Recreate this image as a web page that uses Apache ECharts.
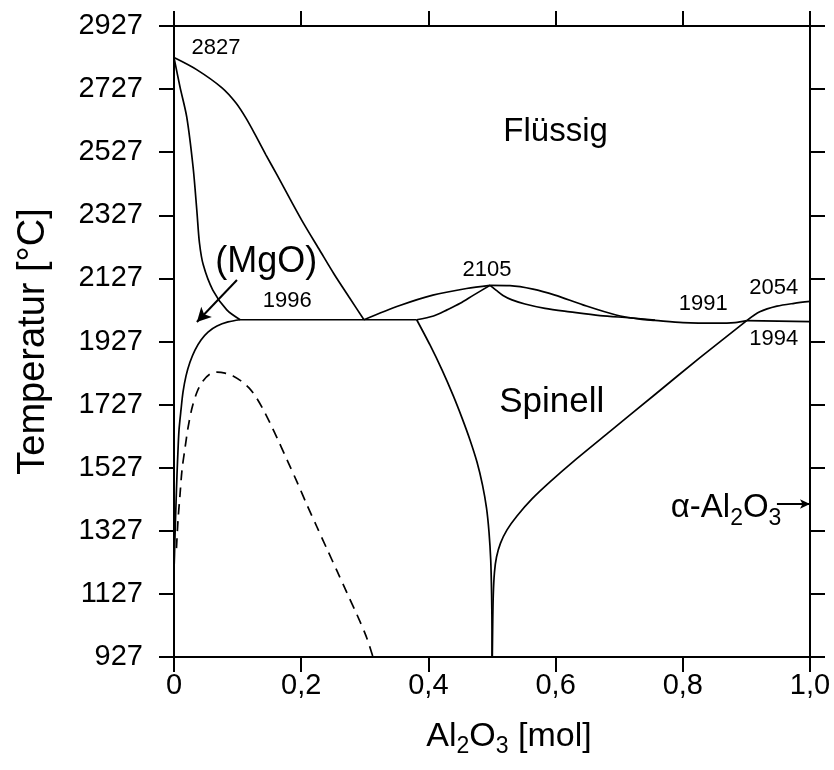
<!DOCTYPE html>
<html>
<head>
<meta charset="utf-8">
<script src="https://cdn.jsdelivr.net/npm/echarts@6/dist/echarts.min.js"></script>
<style>html,body{margin:0;padding:0;background:#fff}#c{width:834px;height:770px}</style>
</head>
<body>
<div id="c"></div>
<script>
// ---- data (x = Al2O3 mole fraction, y = temperature in °C) ----
const xTickLabels = ['0', '0,2', '0,4', '0,6', '0,8', '1,0'];
const liquidusMgO = [[0,2827],[0.0362,2788],[0.0755,2731],[0.0975,2683],[0.1132,2635],[0.1289,2578],[0.1447,2518],[0.162,2455],[0.1824,2379],[0.2044,2299],[0.228,2220],[0.2516,2141],[0.2752,2068],[0.2987,1996]];
const solidusMgO = [[0,2827],[0.0094,2734],[0.020,2639],[0.030,2480],[0.036,2340],[0.040,2240],[0.046,2170],[0.061,2090],[0.083,2027],[0.104,1996]];
const solvusMgO = [[0.1038,1996],[0.0849,1989],[0.0676,1976],[0.0535,1957],[0.0425,1932],[0.033,1900],[0.0252,1862],[0.0189,1818],[0.0142,1767],[0.011,1710],[0.0079,1647],[0.0063,1583],[0.0047,1504],[0.0031,1409],[0.0016,1314],[0.0008,1251],[0,1203]];
const spinodal = [[0.0039,1272],[0.0063,1361],[0.0094,1440],[0.0126,1520],[0.0173,1589],[0.022,1653],[0.0283,1716],[0.0362,1767],[0.0456,1802],[0.0566,1824],[0.0676,1830],[0.0802,1827],[0.0928,1818],[0.1053,1802],[0.1179,1780],[0.1289,1751],[0.1399,1713],[0.1509,1669],[0.1635,1615],[0.1777,1552],[0.1934,1482],[0.2091,1409],[0.2248,1339],[0.2406,1269],[0.2563,1200],[0.272,1130],[0.2877,1061],[0.3019,994],[0.3129,927]];
const eutecticLeft = [[0.1038,1996],[0.3816,1996]];
const liquidusSpinelL = [[0.2987,1996],[0.355,2041],[0.407,2074],[0.46,2095],[0.497,2105]];
const solidusSpinelL = [[0.3816,1996],[0.408,2008],[0.43,2028],[0.45,2048],[0.471,2074],[0.497,2105]];
const liquidusSpinelR = [[0.497,2105],[0.5283,2104],[0.5645,2093],[0.599,2074],[0.6431,2043],[0.695,2011],[0.7327,1998],[0.7563,1994],[0.8003,1987],[0.8538,1985],[0.8821,1987],[0.9005,1993]];
const solidusSpinelR = [[0.497,2105],[0.5063,2090],[0.5173,2073],[0.5314,2059],[0.5519,2046],[0.5833,2032],[0.6226,2021],[0.6698,2009],[0.717,2002],[0.7563,1995]];
const liquidusAl2O3 = [[0.9005,1993],[0.921,2021],[0.948,2039],[0.975,2048],[1.0,2054]];
const eutecticRight = [[0.9005,1993],[1.0,1990]];
const solvusSpinelR = [[0.9005,1993],[0.827,1876],[0.7563,1759],[0.6855,1642],[0.6305,1551],[0.5912,1482],[0.5629,1428],[0.5393,1374],[0.5236,1330],[0.5134,1288],[0.5071,1244],[0.5039,1196],[0.502,1124],[0.5011,1030],[0.5005,927]];
const solvusSpinelL = [[0.3816,1996],[0.4025,1916],[0.4214,1837],[0.4387,1757],[0.4528,1685],[0.4654,1615],[0.4764,1545],[0.4851,1472],[0.4914,1399],[0.4953,1323],[0.498,1234],[0.4994,1124],[0.5,1013],[0.5,927]];
// annotation texts and their anchor (data coordinates)
const annotTexts = ['2827', '1996', '2105', '1991', '2054', '1994'];
const annotPos = [[0.066,2857],[0.178,2055],[0.492,2154],[0.832,2046],[0.943,2098],[0.943,1935]];
const bigTexts = ['Flüssig', 'Spinell', '(MgO)'];
const bigPos = [[0.60,2590],[0.594,1735],[0.145,2179]];
const bigSizes = [33, 35, 36];
const alphaPos = [0.868, 1398];
const arrowMgO = [[0.099,2122],[0.036,1989]];
const arrowAl2O3 = [[0.948,1412],[1.0,1412]];

const FONT = 'Liberation Sans, Arial, Helvetica, sans-serif';
const chart = echarts.init(document.getElementById('c'), null, {renderer: 'canvas'});

function curve(data, opts) {
  return Object.assign({
    type: 'line', data: data, symbol: 'none', showSymbol: false, smooth: 0.3,
    lineStyle: {color: '#000', width: 1.7}, silent: true, animation: false, z: 3
  }, opts || {});
}

const axisCommon = {
  axisLine: {show: true, onZero: false, lineStyle: {color: '#000', width: 2}},
  axisTick: {show: true, inside: false, length: 15, lineStyle: {color: '#000', width: 2}},
  splitLine: {show: false}
};

const sub = {fontSize: 23, fontFamily: FONT, color: '#000', padding: [20, 0, 0, 0]};

function textSeries(items, sizeOf) {
  return {
    type: 'scatter', symbolSize: 0, itemStyle: {color: 'rgba(0,0,0,0)', opacity: 1}, silent: true, animation: false, z: 5,
    data: items.map((it, i) => ({
      value: it.pos, name: it.text,
      label: {show: true, position: [0, 0], align: 'center', verticalAlign: 'middle',
        formatter: it.text, fontSize: sizeOf(i), fontFamily: FONT, color: '#000', rich: it.rich}
    }))
  };
}

chart.setOption({
  animation: false,
  backgroundColor: '#fff',
  grid: {left: 174, right: 24, top: 26, bottom: 113, containLabel: false},
  xAxis: [
    Object.assign({
      type: 'value', min: 0, max: 1, interval: 0.2, position: 'bottom',
      axisLabel: {show: true, margin: 14, fontSize: 29, fontFamily: FONT, color: '#000',
        formatter: v => xTickLabels[Math.round(v / 0.2)]},
      name: '{m|Al}{s|2}{m|O}{s|3}{m| [mol]}', nameLocation: 'middle', nameGap: 58,
      nameTextStyle: {padding: [0, 0, 0, 34], rich: {m: {fontSize: 34, fontFamily: FONT, color: '#000'}, s: sub}}
    }, axisCommon),
    Object.assign({
      type: 'value', min: 0, max: 1, interval: 0.2, position: 'top',
      axisLabel: {show: false}
    }, axisCommon)
  ],
  yAxis: [
    Object.assign({
      type: 'value', min: 927, max: 2927, interval: 200, position: 'left',
      axisLabel: {show: true, margin: 31, fontSize: 29, fontFamily: FONT, color: '#000',
        formatter: v => String(Math.round(v))},
      name: 'Temperatur [°C]', nameLocation: 'middle', nameGap: 121, nameRotate: 90,
      nameTextStyle: {fontSize: 38, fontFamily: FONT, color: '#000'}
    }, axisCommon),
    Object.assign({
      type: 'value', min: 927, max: 2927, interval: 200, position: 'right',
      axisLabel: {show: false}
    }, axisCommon)
  ],
  series: [
    curve(liquidusMgO),
    curve(solidusMgO),
    curve(solvusMgO),
    curve(spinodal, {lineStyle: {color: '#000', width: 1.7, type: [10, 7]}}),
    curve(eutecticLeft, {smooth: false}),
    curve(liquidusSpinelL),
    curve(solidusSpinelL),
    curve(liquidusSpinelR),
    curve(solidusSpinelR),
    curve(liquidusAl2O3),
    curve(eutecticRight, {smooth: false}),
    curve(solvusSpinelR, {smooth: 0.25}),
    curve(solvusSpinelL, {smooth: 0.25}),
    textSeries(annotTexts.map((t, i) => ({text: t, pos: annotPos[i]})), () => 22),
    textSeries(bigTexts.map((t, i) => ({text: t, pos: bigPos[i]})), i => bigSizes[i]),
    textSeries([{text: '{m|α-Al}{s|2}{m|O}{s|3}', pos: alphaPos,
      rich: {m: {fontSize: 33, fontFamily: FONT, color: '#000'}, s: sub}}], () => 33),
    {
      type: 'line', data: [], silent: true, animation: false,
      markLine: {
        silent: true, animation: false, symbol: ['none', 'arrow'],
        label: {show: false},
        lineStyle: {color: '#000', width: 2, type: 'solid'},
        data: [
          [{coord: arrowMgO[0], symbol: 'none'}, {coord: arrowMgO[1], symbol: 'arrow', symbolSize: [11, 14]}],
          [{coord: arrowAl2O3[0], symbol: 'none'}, {coord: arrowAl2O3[1], symbol: 'arrow', symbolSize: [7, 10]}]
        ]
      }
    }
  ]
});
</script>
</body>
</html>
